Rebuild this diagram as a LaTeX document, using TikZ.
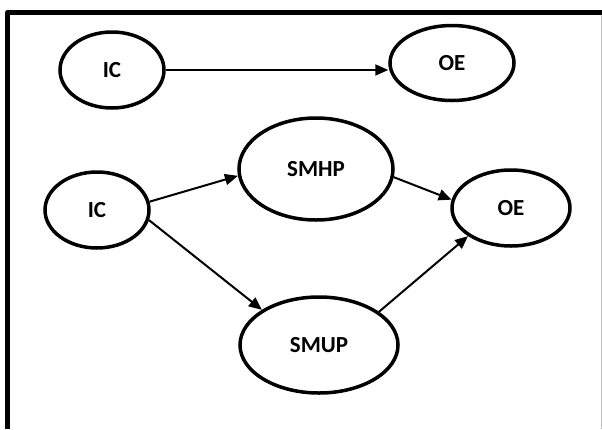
\documentclass[tikz,border=0pt]{standalone}
\usepackage{fontspec}
\setmainfont{Carlito}
\usetikzlibrary{shapes.geometric}
\usetikzlibrary{arrows.meta}
\tikzstyle{myellipse} = [ellipse, draw=black, line width=3.5pt, fill=white, inner sep=0pt, font=\fontsize{23}{26}\selectfont\bfseries]
\tikzstyle{myarrow} = [line width=2pt, -{Triangle[length=13pt, width=11pt]}]

\begin{document}
\begin{tikzpicture}[x=1pt, y=-1pt]

		\useasboundingbox (0,0) rectangle (602,429);
		\draw [line width=4.5pt, line join=round] (7.5,429) -- (7.5,12.5) -- (602,12.5);
		\draw [line width=1pt, black!25] (601,15) -- (601,429);

		\node [myellipse, minimum width=104, minimum height=76] (ictop) at (112,70) {IC};
		\node [myellipse, minimum width=124, minimum height=75] (oetop) at (452,63) {OE};

		\node [myellipse, minimum width=104, minimum height=76] (icmid) at (97,210) {IC};
		\node [myellipse, minimum width=154, minimum height=102] (smhp) at (316,169) {SMHP};
		\node [myellipse, minimum width=158, minimum height=96] (smup) at (319,345) {SMUP};
		\node [myellipse, minimum width=118, minimum height=76] (oemid) at (511,208) {OE};

		\draw [myarrow] (ictop.east) -- (ictop.east -| oetop.west);
		\draw [myarrow] (icmid.9) -- (smhp.185);
		\draw [myarrow] (icmid.-11) -- (smup.north west);
		\draw [myarrow] (smhp.-6) -- (oemid.172);
		\draw [myarrow] (smup.29) -- (oemid.south west);

	\end{tikzpicture}
\end{document}
